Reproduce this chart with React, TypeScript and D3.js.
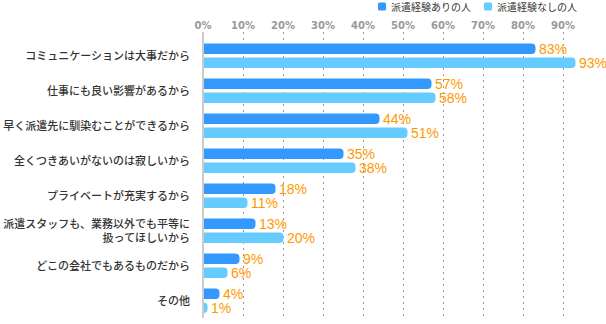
import React from "react";
import * as d3 from "d3";

const categories = [
  "コミュニケーションは大事だから",
  "仕事にも良い影響があるから",
  "早く派遣先に馴染むことができるから",
  "全くつきあいがないのは寂しいから",
  "プライベートが充実するから",
  "派遣スタッフも、業務以外でも平等に\n扱ってほしいから",
  "どこの会社でもあるものだから",
  "その他",
];
const seriesNames = ["派遣経験ありの人", "派遣経験なしの人"];
const withExp = [83, 57, 44, 35, 18, 13, 9, 4];
const withoutExp = [93, 58, 51, 38, 11, 20, 6, 1];
const ticks = [0, 10, 20, 30, 40, 50, 60, 70, 80, 90];

const colors = ["#3399ff", "#66ccff"];
const W = 606;
const H = 324;
const FONT = "'Noto Sans CJK JP', 'Noto Sans', sans-serif";

export default function App() {
  const x = d3.scaleLinear().domain([0, 100]).range([203.5, 603.5]);
  const y = d3
    .scaleBand<number>()
    .domain(d3.range(categories.length))
    .range([38.5, 318.5]);
  const barH = 10.5;
  const barGap = 3.5;

  const roundRight = (x0: number, x1: number, yTop: number, h: number) => {
    const r = Math.min(4, x1 - x0, h / 2);
    const p = d3.path();
    p.moveTo(x0, yTop);
    p.lineTo(x1 - r, yTop);
    p.arcTo(x1, yTop, x1, yTop + r, r);
    p.lineTo(x1, yTop + h - r);
    p.arcTo(x1, yTop + h, x1 - r, yTop + h, r);
    p.lineTo(x0, yTop + h);
    p.closePath();
    return p.toString();
  };

  const series = [withExp, withoutExp];

  return (
    <svg
      width={W}
      height={H}
      style={{ position: "absolute", left: 0, top: 0, fontFamily: FONT }}
    >
      <rect width={W} height={H} fill="#fff" />
      {/* legend */}
      {seriesNames.map((n, i) => {
        const lx = i === 0 ? 378 : 484;
        return (
          <g key={n}>
            <rect x={lx} y={2.5} width={8} height={8} rx={1.5} fill={colors[i]} />
            <text x={lx + 13} y={10.5} fontSize={10} fill="#333">
              {n}
            </text>
          </g>
        );
      })}
      {/* gridlines */}
      {ticks.slice(1).map((t) => (
        <line
          key={t}
          x1={x(t)}
          x2={x(t)}
          y1={32}
          y2={318}
          stroke="#999"
          strokeWidth={1}
          strokeDasharray="2,4"
        />
      ))}
      {ticks.map((t) => (
        <text
          key={t}
          x={x(t) - 0.5}
          y={29}
          textAnchor="middle"
          fontSize={10}
          fontWeight="bold"
          fill="#999"
          fontFamily="'DejaVu Sans', sans-serif"
        >
          {t}%
        </text>
      ))}
      {/* bars */}
      {categories.map((c, i) => {
        const top = y(i)! + 5;
        return (
          <g key={c}>
            {series.map((s, j) => {
              const yt = top + j * (barH + barGap);
              const x1 = x(s[i]);
              return (
                <g key={j}>
                  <path d={roundRight(x(0), x1, yt, barH)} fill={colors[j]} />
                  <text
                    x={x1 + 3.5}
                    y={yt + barH / 2 + 5}
                    fontSize={14}
                    fill="#ff9900"
                    fontFamily="'Liberation Sans', Arial, sans-serif"
                  >
                    {s[i]}%
                  </text>
                </g>
              );
            })}
            {(() => {
              const lines = c.split("\n");
              const mid = top + barH + barGap / 2;
              const lh = 14;
              return lines.map((ln, k) => (
                <text
                  key={k}
                  x={190}
                  y={mid + (k - (lines.length - 1) / 2) * lh + 4}
                  textAnchor="end"
                  fontSize={11}
                  fontWeight={500}
                  fill="#333"
                >
                  {ln}
                </text>
              ));
            })()}
          </g>
        );
      })}
      {/* axis line */}
      <line x1={203} x2={203} y1={32} y2={318} stroke="#ccc" strokeWidth={2} />
    </svg>
  );
}
